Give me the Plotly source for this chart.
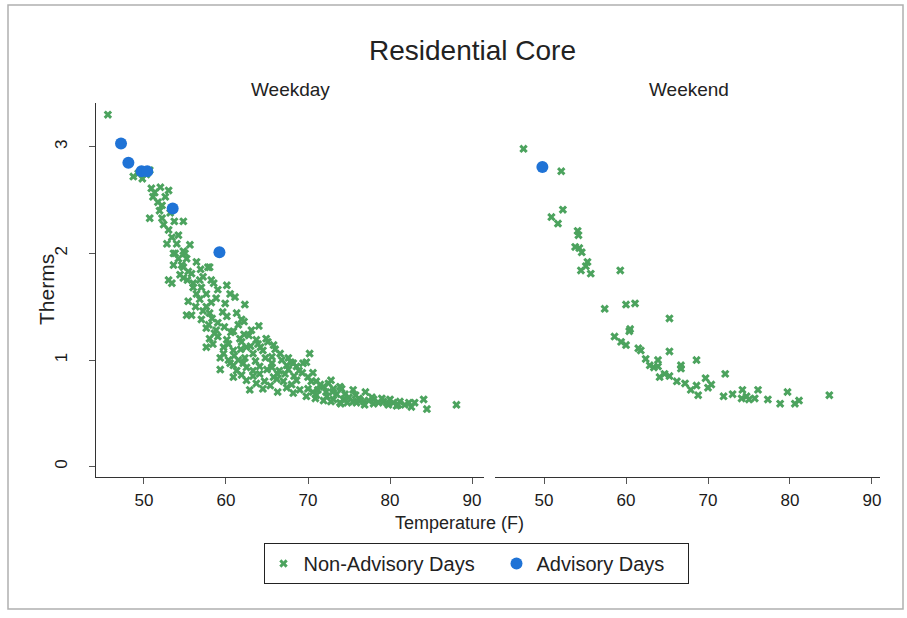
import plotly.graph_objects as go

# ---------------- data ----------------
wd_temp = [45.6, 48.7, 49.3, 50.7, 49.8, 50.3, 50.9, 51.1, 51.7, 53.0, 52.6, 51.3, 52.2, 50.7, 52.2, 52.4, 53.0, 54.8, 54.2, 52.8,
           54.0, 55.6, 53.4, 53.2, 54.8, 53.8, 55.2, 53.6, 54.8, 56.4, 53.6, 55.0, 54.6, 57.8, 58.0, 53.0, 54.4, 55.8, 56.8, 58.2,
           53.4, 54.8, 56.0, 57.2, 58.5, 60.1, 55.4, 57.0, 59.0, 56.4, 57.6, 55.4, 61.1, 57.6, 59.9, 62.3, 58.8, 56.8, 60.5, 58.2,
           55.2, 55.8, 58.3, 60.1, 61.3, 58.0, 59.6, 61.9, 57.2, 59.0, 57.6, 58.8, 61.5, 63.1, 59.8, 57.9, 60.6, 62.2, 64.0, 58.0,
           60.1, 61.7, 63.7, 64.9, 58.4, 60.3, 61.9, 63.9, 65.1, 59.0, 62.8, 57.6, 59.7, 60.9, 62.5, 63.3, 64.5, 59.3, 61.0, 62.3,
           64.8, 66.6, 66.0, 70.2, 61.5, 63.6, 65.6, 67.6, 60.5, 62.1, 69.4, 59.3, 60.9, 62.5, 64.1, 65.6, 67.4, 68.6, 69.8, 67.6,
           68.2, 61.3, 63.3, 65.0, 66.5, 60.9, 62.5, 64.1, 65.8, 67.0, 68.6, 70.0, 69.3, 68.3, 70.6, 70.4, 63.3, 66.3, 71.5, 72.5,
           72.8, 62.9, 64.5, 66.3, 68.2, 69.8, 70.9, 73.1, 74.1, 75.5, 77.0, 73.9, 71.9, 65.4, 67.4, 69.0, 70.6, 71.2, 71.0, 72.3,
           73.1, 74.3, 75.5, 76.8, 78.0, 79.2, 80.0, 81.2, 81.8, 82.6, 84.1, 84.5, 88.1, 71.9, 73.9, 75.9, 78.0, 79.6, 81.0, 82.3,
           72.8, 74.8, 76.4, 77.4, 78.6, 80.4, 75.0, 76.2, 77.8, 73.5, 79.0, 80.8, 83.0, 74.0, 76.9, 79.8, 61.8, 63.0, 64.2, 65.8,
           66.8, 67.9, 68.9, 66.2, 64.7, 63.7, 61.9, 60.3, 59.7, 58.6, 56.3, 57.0, 60.9, 62.2, 65.6, 67.2, 68.0, 70.0, 71.0, 72.2,
           73.0, 74.5, 75.8, 56.0, 54.2, 55.3, 56.9, 51.9, 52.0, 53.7]
wd_therms = [3.30, 2.72, 2.75, 2.78, 2.70, 2.74, 2.61, 2.53, 2.48, 2.59, 2.53, 2.57, 2.45, 2.33, 2.33, 2.27, 2.22, 2.30, 2.17, 2.09,
             2.09, 2.08, 2.15, 2.38, 2.02, 2.00, 1.95, 1.89, 1.87, 1.92, 2.00, 2.00, 1.89, 1.87, 1.87, 1.75, 1.80, 1.81, 1.75, 1.75,
             1.72, 1.77, 1.72, 1.78, 1.72, 1.70, 1.83, 1.68, 1.66, 1.62, 1.62, 1.55, 1.59, 1.50, 1.53, 1.52, 1.58, 1.57, 1.62, 1.54,
             1.42, 1.42, 1.39, 1.41, 1.44, 1.44, 1.45, 1.38, 1.46, 1.35, 1.30, 1.28, 1.33, 1.28, 1.31, 1.33, 1.26, 1.36, 1.32, 1.20,
             1.19, 1.20, 1.19, 1.20, 1.15, 1.15, 1.17, 1.15, 1.17, 1.22, 1.23, 1.12, 1.06, 1.09, 1.12, 1.06, 1.09, 1.02, 1.04, 1.02,
             1.02, 1.06, 1.10, 1.06, 1.00, 0.99, 1.03, 1.02, 0.97, 0.97, 0.97, 0.91, 0.95, 0.93, 0.94, 0.97, 0.95, 0.94, 0.98, 0.91,
             0.97, 0.90, 0.90, 0.91, 0.90, 0.84, 0.81, 0.87, 0.84, 0.80, 0.81, 0.84, 0.88, 0.85, 0.88, 0.80, 0.85, 0.87, 0.77, 0.78,
             0.81, 0.72, 0.73, 0.70, 0.69, 0.66, 0.64, 0.73, 0.73, 0.72, 0.70, 0.75, 0.75, 0.76, 0.74, 0.72, 0.70, 0.72, 0.67, 0.66,
             0.63, 0.63, 0.61, 0.61, 0.63, 0.61, 0.63, 0.61, 0.58, 0.56, 0.63, 0.54, 0.58, 0.62, 0.60, 0.60, 0.59, 0.60, 0.58, 0.60,
             0.61, 0.60, 0.62, 0.62, 0.60, 0.60, 0.65, 0.64, 0.65, 0.68, 0.64, 0.57, 0.60, 0.59, 0.58, 0.58, 1.10, 1.13, 1.12, 1.14,
             1.00, 0.98, 0.90, 0.82, 0.80, 0.78, 0.86, 1.00, 1.12, 1.25, 1.50, 1.38, 1.27, 1.24, 0.93, 0.87, 0.77, 0.73, 0.80, 0.70,
             0.70, 0.68, 0.67, 1.68, 1.95, 1.75, 1.85, 2.40, 2.62, 2.30]

wd_adv_temp = [47.2, 48.1, 49.7, 50.4, 53.5, 59.2]
wd_adv_therms = [3.03, 2.85, 2.77, 2.77, 2.42, 2.01]

we_temp = [47.5, 52.1, 52.3, 50.9, 51.7, 54.1, 54.2, 53.8, 54.3, 54.6, 55.3, 55.1, 54.5, 55.7, 59.3, 57.4, 60.0, 61.1, 65.3, 58.6,
           60.4, 60.5, 59.4, 60.0, 61.5, 61.8, 65.3, 62.4, 63.9, 62.9, 63.4, 63.9, 66.7, 66.7, 68.6, 64.1, 64.7, 65.3, 66.2, 67.2,
           67.9, 68.6, 68.8, 69.7, 70.0, 70.4, 72.1, 71.9, 73.0, 74.2, 74.1, 74.7, 75.0, 75.7, 76.1, 77.3, 78.8, 79.7, 80.6, 81.1,
           84.8]
we_therms = [2.98, 2.77, 2.41, 2.34, 2.28, 2.21, 2.17, 2.06, 2.05, 2.01, 1.92, 1.88, 1.84, 1.81, 1.84, 1.48, 1.52, 1.53, 1.39, 1.22,
             1.27, 1.29, 1.17, 1.14, 1.11, 1.09, 1.08, 1.01, 1.00, 0.95, 0.93, 0.94, 0.95, 0.92, 1.00, 0.84, 0.87, 0.85, 0.80, 0.78,
             0.72, 0.76, 0.67, 0.83, 0.74, 0.77, 0.87, 0.66, 0.68, 0.72, 0.64, 0.66, 0.63, 0.64, 0.72, 0.63, 0.59, 0.70, 0.59, 0.62,
             0.67]

we_adv_temp = [49.8]
we_adv_therms = [2.81]

x_ticks = [50, 60, 70, 80, 90]
y_ticks = [0, 1, 2, 3]
panel_titles = ["Weekday", "Weekend"]
legend_names = ["Non-Advisory Days", "Advisory Days"]

# ---------------- styling ----------------
GREEN = "#4ca35e"
BLUE = "#1f73d6"
W, H = 907, 618
FONT = "Liberation Sans, Arial, sans-serif"


def px(xp):
    return xp / W


def py(yp):
    return 1 - yp / H


fig = go.Figure()

fig.add_trace(go.Scatter(x=wd_temp, y=wd_therms, mode="markers", name=legend_names[0],
                         marker=dict(symbol="x", size=7.5, color=GREEN, line=dict(width=0)),
                         xaxis="x", yaxis="y", legendgroup="na", legendwidth=188))
fig.add_trace(go.Scatter(x=wd_adv_temp, y=wd_adv_therms, mode="markers", name=legend_names[1],
                         marker=dict(symbol="circle", size=12, color=BLUE, line=dict(width=0)),
                         xaxis="x", yaxis="y", legendgroup="a", legendwidth=146))
fig.add_trace(go.Scatter(x=we_temp, y=we_therms, mode="markers", name=legend_names[0], showlegend=False,
                         marker=dict(symbol="x", size=7.5, color=GREEN, line=dict(width=0)),
                         xaxis="x2", yaxis="y2", legendgroup="na"))
fig.add_trace(go.Scatter(x=we_adv_temp, y=we_adv_therms, mode="markers", name=legend_names[1], showlegend=False,
                         marker=dict(symbol="circle", size=12, color=BLUE, line=dict(width=0)),
                         xaxis="x2", yaxis="y2", legendgroup="a"))

xcommon = dict(showgrid=False, zeroline=False, showline=True, linecolor="#333", linewidth=1,
               ticks="outside", ticklen=6, tickcolor="#555", tickvals=x_ticks,
               tickfont=dict(family=FONT, size=17, color="#1a1a1a"), ticklabelstandoff=2)

fig.update_layout(
    width=W, height=H,
    margin=dict(l=0, r=0, t=0, b=0),
    paper_bgcolor="white", plot_bgcolor="white",
    showlegend=True,
    xaxis=dict(domain=[px(96), px(484)], range=[44.15, 91.46], anchor="y", **xcommon),
    xaxis2=dict(domain=[px(495), px(880)], range=[44.02, 90.98], anchor="y2", **xcommon),
    yaxis=dict(domain=[py(477), py(103)], range=[-0.097, 3.41], anchor="x",
               showgrid=False, zeroline=False, showline=True, linecolor="#333", linewidth=1,
               ticks="outside", ticklen=6, tickcolor="#555", tickvals=y_ticks, tickangle=-90,
               tickfont=dict(family=FONT, size=17, color="#1a1a1a"), ticklabelstandoff=15),
    yaxis2=dict(domain=[py(477), py(103)], range=[-0.097, 3.41], anchor="x2",
                showgrid=False, zeroline=False, showline=False, showticklabels=False, ticks=""),
    legend=dict(orientation="h", x=px(476), xanchor="center", y=py(543), yanchor="top",
                bordercolor="#222", borderwidth=1, bgcolor="white",
                font=dict(family=FONT, size=20, color="#222"),
                itemsizing="trace", tracegroupgap=0),
)

annotations = [
    dict(text="Residential Core", x=px(473), y=py(51), font=dict(family=FONT, size=28, color="#222")),
    dict(text=panel_titles[0], x=px(290), y=py(90), font=dict(family=FONT, size=19, color="#222")),
    dict(text=panel_titles[1], x=px(689), y=py(90), font=dict(family=FONT, size=19, color="#222")),
    dict(text="Therms", x=px(46), y=py(290), textangle=-90, font=dict(family=FONT, size=21, color="#222")),
    dict(text="Temperature (F)", x=px(460), y=py(523), font=dict(family=FONT, size=18, color="#222")),
]
for a in annotations:
    a.update(xref="paper", yref="paper", showarrow=False, xanchor="center", yanchor="middle")
fig.update_layout(annotations=annotations)

fig.add_shape(type="rect", xref="paper", yref="paper", x0=px(8), x1=px(903), y0=py(609), y1=py(5),
              line=dict(color="#b0b0b0", width=1.5), fillcolor="rgba(0,0,0,0)", layer="below")

fig.write_html("out.html")
